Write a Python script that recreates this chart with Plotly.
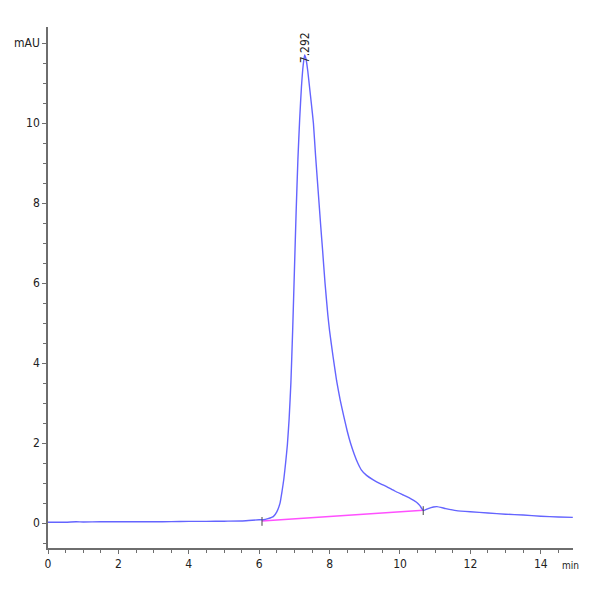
import plotly.graph_objects as go

# Chromatogram signal (min, mAU)
time_min = [0.0, 0.5, 0.8, 1.0, 1.5, 2.0, 2.5, 3.0, 3.5, 4.0, 4.5, 5.0, 5.5, 5.8, 6.0,
            6.12, 6.25, 6.4, 6.5, 6.59, 6.65, 6.7, 6.75, 6.8, 6.85, 6.9, 6.95, 7.0,
            7.05, 7.1, 7.15, 7.2, 7.25, 7.29, 7.33, 7.38, 7.43, 7.48, 7.54, 7.6, 7.65,
            7.7, 7.75, 7.8, 7.87, 7.95, 8.0, 8.1, 8.2, 8.3, 8.4, 8.5, 8.6, 8.7, 8.8,
            8.9, 9.05, 9.24, 9.45, 9.62, 9.85, 10.09, 10.3, 10.47, 10.56, 10.62, 10.67,
            10.8, 10.95, 11.05, 11.3, 11.6, 12.0, 12.5, 13.0, 13.5, 14.0, 14.5, 14.91]
signal_mau = [0.02, 0.02, 0.03, 0.025, 0.03, 0.03, 0.03, 0.03, 0.035, 0.04, 0.04, 0.045, 0.05, 0.07, 0.08,
              0.08, 0.11, 0.16, 0.28, 0.49, 0.8, 1.1, 1.5, 1.95, 2.6, 3.5, 4.8, 6.3,
              7.8, 9.1, 10.1, 10.9, 11.45, 11.7, 11.6, 11.3, 10.9, 10.5, 10.0, 9.2, 8.6,
              8.0, 7.4, 6.83, 6.0, 5.2, 4.8, 4.15, 3.55, 3.08, 2.68, 2.3, 1.98, 1.72, 1.5,
              1.33, 1.19, 1.08, 0.98, 0.91, 0.8, 0.7, 0.61, 0.52, 0.44, 0.36, 0.31,
              0.36, 0.4, 0.41, 0.36, 0.31, 0.28, 0.25, 0.22, 0.2, 0.17, 0.15, 0.14]

# Integration baseline (start, end)
baseline_time = [6.08, 10.66]
baseline_mau = [0.05, 0.32]

peak_time = 7.292
peak_label = "7.292"
peak_label_base = 11.45

y_tickvals = [0, 2, 4, 6, 8, 10, 12]
y_ticktext = ["0", "2", "4", "6", "8", "10", "mAU"]
x_tickvals = [0, 2, 4, 6, 8, 10, 12, 14]
x_ticktext = ["0", "2", "4", "6", "8", "10", "12", "14"]
x_unit = "min"

blue = "rgb(100,100,255)"
pink = "rgb(255,80,255)"
axis_col = "rgb(110,110,110)"
fam = "DejaVu Sans Condensed, Liberation Sans Narrow, Liberation Sans, Arial, sans-serif"
font = dict(family=fam, size=12, color="#222")

fig = go.Figure()
fig.add_trace(go.Scatter(x=baseline_time, y=baseline_mau, mode="lines",
                         line=dict(color=pink, width=1.6), hoverinfo="skip"))
fig.add_trace(go.Scatter(x=time_min, y=signal_mau, mode="lines",
                         line=dict(color=blue, width=1.4, shape="spline", smoothing=0.4)))

# integration marks
for t, v in zip(baseline_time, baseline_mau):
    fig.add_shape(type="line", x0=t, x1=t, y0=v - 0.12, y1=v + 0.1,
                  line=dict(color="#444", width=1))

fig.add_annotation(x=peak_time, y=peak_label_base, text=peak_label, textangle=-90,
                   showarrow=False, yanchor="bottom", xanchor="center",
                   font=dict(family=fam, size=12, color="#222"))
fig.add_annotation(x=14.83, xref="x", y=0, yref="paper", text=x_unit, showarrow=False,
                   yanchor="top", yshift=-10, font=dict(family=fam, size=10, color="#222"))

fig.update_layout(
    width=600, height=600,
    margin=dict(l=40, r=35, t=19, b=60, autoexpand=False),
    plot_bgcolor="white", paper_bgcolor="white",
    showlegend=False, font=font,
    xaxis=dict(range=[0, 14.915], tickmode="array", tickvals=x_tickvals, ticktext=x_ticktext,
               ticks="outside", ticklen=4, tickcolor=axis_col, showline=True, linecolor=axis_col,
               linewidth=1.5, showgrid=False, zeroline=False, tickfont=font, automargin=False,
               minor=dict(tickmode="linear", tick0=0, dtick=0.5, ticks="outside", ticklen=3,
                          tickcolor=axis_col, showgrid=False)),
    yaxis=dict(range=[-0.625, 12.4], tickmode="array", tickvals=y_tickvals, ticktext=y_ticktext,
               ticks="outside", ticklen=4, tickcolor=axis_col, showline=True, linecolor=axis_col,
               linewidth=1.5, showgrid=False, zeroline=False, tickfont=font, automargin=False,
               minor=dict(tickmode="linear", tick0=0, dtick=0.5, ticks="outside", ticklen=3,
                          tickcolor=axis_col, showgrid=False)),
)

fig.write_html("out.html")
